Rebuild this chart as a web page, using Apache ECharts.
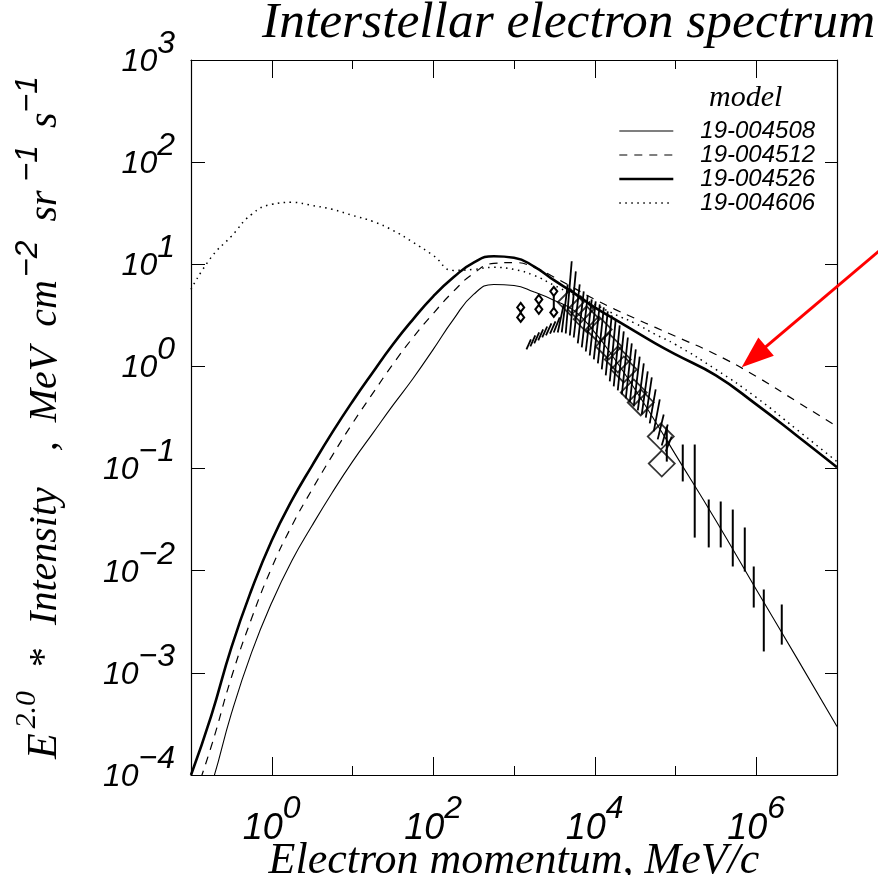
<!DOCTYPE html>
<html><head><meta charset="utf-8">
<script src="https://cdn.jsdelivr.net/npm/echarts/dist/echarts.min.js"></script>
<style>html,body{margin:0;padding:0;background:#fff}#c{width:878px;height:875px}</style>
</head><body><div id="c"></div>
<script>
// ---- data (momentum in MeV/c, E^2 * intensity) ----
const momentum = [0.1, 0.178, 0.316, 0.562, 1, 1.78, 3.16, 5.62, 10, 17.8, 31.6, 56.2, 100, 178, 316, 562, 1000, 1780, 3160, 5620, 1e4, 1.78e4, 3.16e4, 5.62e4, 1e5, 3.16e5, 1e6, 3.16e6, 1e7];
const model004508 = [2.3e-5, 7.9e-5, 3.99e-4, 1.58e-3, 4.88e-3, 1.26e-2, 2.77e-2, 5.83e-2, 0.117, 0.221, 0.415, 0.762, 1.47, 2.89, 5.07, 6.35, 6.2, 5.35, 4.43, 3.50, 2.15, 1.17, 0.595, 0.289, 0.137, 3.10e-2, 6.55e-3, 1.41e-3, 2.98e-4];
const model004512 = [4.9e-5, 1.9e-4, 9.0e-4, 3.4e-3, 1.07e-2, 2.77e-2, 6.24e-2, 0.134, 0.277, 0.544, 1.05, 1.92, 3.30, 5.43, 8.15, 10.2, 10.4, 9.33, 7.45, 5.81, 4.53, 3.62, 2.95, 2.41, 1.97, 1.31, 0.798, 0.454, 0.258];
const model004526 = [1.0e-4, 3.8e-4, 1.77e-3, 6.5e-3, 1.98e-2, 4.9e-2, 0.107, 0.226, 0.454, 0.873, 1.64, 2.89, 4.85, 7.45, 10.4, 12.0, 11.6, 9.5, 6.95, 5.19, 3.78, 2.89, 2.20, 1.68, 1.31, 0.816, 0.425, 0.211, 0.103];
const model004606 = [5.68, 11.7, 18.8, 30.8, 38.6, 40.4, 37.7, 34.5, 30.1, 26.3, 21.5, 16.4, 12.2, 8.71, 8.91, 9.33, 8.91, 7.78, 6.21, 4.96, 4.05, 3.23, 2.64, 2.06, 1.64, 0.935, 0.497, 0.242, 0.117];
const seriesNames = ['19-004508', '19-004512', '19-004526', '19-004606'];

// low-energy measurements (error bars with diamond caps)
const capX = [1210, 2030, 3110];
const capLow = [3.02, 3.62, 3.38];
const capHigh = [3.78, 4.53, 5.43];

// dense measurements (hatched strokes)
const hatchX = [1520, 1710, 1910, 2140, 2400, 2690, 3020, 3380, 3790, 4250, 4760, 5350, 5980, 6710, 7520, 8430, 9440, 1.06e4, 1.19e4, 1.33e4, 1.49e4, 1.67e4, 1.87e4, 2.10e4, 2.36e4, 2.64e4, 2.96e4, 3.31e4, 3.72e4, 4.16e4, 4.67e4, 5.22e4, 5.86e4, 6.56e4, 7.36e4, 8.24e4];
const hatchLow = [1.47, 1.57, 1.68, 1.80, 1.92, 2.01, 2.10, 2.15, 2.15, 2.15, 2.10, 2.01, 1.92, 1.68, 1.54, 1.40, 1.28, 1.17, 1.07, 0.935, 0.817, 0.713, 0.637, 0.582, 0.532, 0.486, 0.444, 0.406, 0.371, 0.339, 0.316, 0.277, 0.231, 0.193, 0.168, 0.147];
const hatchHigh = [1.84, 2.01, 2.15, 2.30, 2.46, 2.64, 2.76, 3.02, 4.05, 6.35, 10.7, 8.52, 6.35, 5.43, 4.96, 4.53, 4.33, 4.05, 3.78, 3.46, 3.16, 2.89, 2.52, 2.20, 1.92, 1.68, 1.47, 1.25, 1.07, 0.893, 0.780, 0.595, 0.475, 0.339, 0.270, 0.206];

// large open diamonds
const diamondX = [5040, 6710, 7960, 11200, 14900, 19300, 22900, 30400, 37100, 65700, 67600];
const diamondY = [4.24, 3.62, 2.89, 2.30, 1.57, 1.17, 0.935, 0.556, 0.444, 0.206, 0.112];

// high-energy error bars
const barX = [7.8e4, 1.23e5, 1.73e5, 2.58e5, 3.63e5, 5.12e5, 7.21e5, 9.31e5, 1.24e6, 2.07e6];
const barLow = [0.117, 0.0748, 0.0211, 0.0169, 0.0169, 0.011, 9.8e-3, 4.36e-3, 1.62e-3, 1.89e-3];
const barHigh = [0.258, 0.172, 0.172, 0.0498, 0.0476, 0.0397, 0.0265, 0.011, 6.55e-3, 4.67e-3];

// red annotation arrow (from, to)
const arrowFrom = [4.0e7, 15.3];
const arrowTo = [6.6e5, 0.98];

const decadeTicksX = [0.1, 1, 10, 100, 1e3, 1e4, 1e5, 1e6, 1e7];
const labelTicksX = [1, 100, 1e4, 1e6];
const decadeTicksY = [1e-4, 1e-3, 1e-2, 1e-1, 1, 10, 100, 1e3];

// ---- chart ----
const chart = echarts.init(document.getElementById('c'), null, {renderer: 'canvas'});
const zip = (a, b) => a.map((v, i) => [v, b[i]]);
function expLabel(v) {
  const e = Math.round(Math.log10(v));
  return '{b|10}{s|' + (e < 0 ? '\u2212' + (-e) : e) + '}';
}
const sansI = {fontFamily: 'Liberation Sans', fontStyle: 'italic', color: '#000'};
const serifI = {fontFamily: 'Liberation Serif', fontStyle: 'italic', color: '#000'};

function baseX(pos) {
  return {
    type: 'log', logBase: 10, min: 0.1, max: 1e7, position: pos, gridIndex: 0,
    axisLine: {show: false},
    splitLine: {show: false},
    axisTick: {show: true, inside: true, length: 9, customValues: decadeTicksX, lineStyle: {color: '#000', width: 1}},
    axisLabel: {show: false}
  };
}
function longX(pos) {
  return {
    type: 'log', logBase: 10, min: 0.1, max: 1e7, position: pos, gridIndex: 0,
    axisLine: {show: true, onZero: false, lineStyle: {color: '#000', width: 1.2}},
    splitLine: {show: false},
    axisTick: {show: true, inside: true, length: 18, customValues: labelTicksX, lineStyle: {color: '#000', width: 1}},
    axisLabel: {show: false}
  };
}

const xMain = longX('bottom');
xMain.axisLabel = {
  show: true, customValues: labelTicksX, margin: 18, formatter: expLabel,
  rich: {
    b: Object.assign({fontSize: 36, lineHeight: 72}, sansI),
    s: Object.assign({fontSize: 32, lineHeight: 32, verticalAlign: 'top'}, sansI)
  }
};
xMain.name = 'Electron momentum, MeV/c';
xMain.nameLocation = 'middle';
xMain.nameGap = 62;
xMain.nameMoveOverlap = false;
xMain.nameTextStyle = Object.assign({fontSize: 44, padding: [2, 0, 0, 0]}, serifI);

// y-axis title: rich tokens, spaced with padding (left padding in px)
const F = 40;
function tok(size, pad, sup, fam) {
  return Object.assign({fontSize: size, lineHeight: sup ? 32 : 66, verticalAlign: sup ? 'top' : 'middle',
                        padding: [0, 0, 0, pad]}, fam);
}
const yNameRich = {
  e: tok(42, 0, false, serifI),
  es: tok(30, 5, true, serifI),
  st: tok(F, 12, false, serifI),
  t1: tok(F, 14, false, serifI),
  cm: tok(F, 26, false, serifI),
  t2: tok(F, 9, false, serifI),
  t3: tok(F, 10, false, serifI),
  x1: tok(32, 3, true, sansI),
  t4: tok(F, 19, false, serifI),
  x2: tok(32, 9, true, sansI),
  t5: tok(F, 17, false, serifI),
  x3: tok(32, 0, true, sansI)
};
const yName = '{e|E}{es|2.0}{st| * }{t1|Intensity}{cm| , }{t2|MeV}{t3| cm}{x1|\u22122}{t4|sr}{x2|\u22121}{t5|s}{x3|\u22121}';

const lineBase = {type: 'line', symbol: 'none', smooth: 0.5, itemStyle: {color: '#000'}};
const lineStyles = [
  {color: '#000', width: 1.1, type: 'solid'},
  {color: '#000', width: 1.2, type: [8, 7]},
  {color: '#000', width: 2.6, type: 'solid'},
  {color: '#000', width: 1.5, type: [1.5, 4.5]}
];
const option = {
  animation: false,
  backgroundColor: '#fff',
  title: [
    {text: 'Interstellar electron spectrum', left: 257, top: -8,
     textStyle: Object.assign({fontSize: 51.5, fontWeight: 'normal'}, serifI)},
    {text: 'model', left: 704, top: 78,
     textStyle: Object.assign({fontSize: 30, fontWeight: 'normal'}, serifI)}
  ],
  legend: {
    data: seriesNames.map((n, i) => ({name: n, lineStyle: lineStyles[i]})),
    orient: 'vertical', left: 618, top: 119, padding: 0,
    itemWidth: 54, itemHeight: 14, itemGap: 0,
    selectedMode: false,
    itemStyle: {opacity: 0},
    textStyle: Object.assign({fontSize: 24, lineHeight: 24, padding: [0, 0, 0, 22]}, sansI)
  },
  grid: {left: 191, right: 41, top: 60, bottom: 100, containLabel: false, outerBoundsMode: 'none'},
  xAxis: [xMain, baseX('bottom'), longX('top'), baseX('top')],
  yAxis: [
    {
      type: 'log', logBase: 10, min: 1e-4, max: 1e3, position: 'left',
      axisLine: {show: true, onZero: false, lineStyle: {color: '#000', width: 1.2}},
      splitLine: {show: false},
      axisTick: {show: true, inside: true, length: 14, customValues: decadeTicksY, lineStyle: {color: '#000'}},
      axisLabel: {
        show: true, customValues: decadeTicksY, margin: 16, formatter: expLabel,
        rich: {
          b: Object.assign({fontSize: 32, lineHeight: 64, padding: [4, 0, 0, 0]}, sansI),
          s: Object.assign({fontSize: 32, lineHeight: 32, verticalAlign: 'top'}, sansI)
        }
      },
      name: yName, nameLocation: 'middle', nameRotate: 90, nameGap: 113, nameMoveOverlap: false,
      nameTextStyle: {rich: yNameRich}
    },
    {
      type: 'log', logBase: 10, min: 1e-4, max: 1e3, position: 'right',
      axisLine: {show: true, onZero: false, lineStyle: {color: '#000', width: 1.2}},
      splitLine: {show: false},
      axisTick: {show: true, inside: true, length: 12, customValues: decadeTicksY, lineStyle: {color: '#000'}},
      axisLabel: {show: false}
    }
  ],
  series: [
    Object.assign({name: seriesNames[0], data: zip(momentum, model004508), lineStyle: lineStyles[0]}, lineBase),
    Object.assign({name: seriesNames[1], data: zip(momentum, model004512), lineStyle: lineStyles[1]}, lineBase),
    Object.assign({name: seriesNames[2], data: zip(momentum, model004526), lineStyle: lineStyles[2]}, lineBase),
    Object.assign({name: seriesNames[3], data: zip(momentum, model004606), lineStyle: lineStyles[3]}, lineBase),
    {
      name: 'hatch', type: 'custom', data: hatchX.map((x, i) => [x, hatchLow[i], hatchHigh[i]]),
      encode: {x: 0, y: [1, 2]},
      renderItem: function (params, api) {
        const lo = api.coord([api.value(0), api.value(1)]);
        const hi = api.coord([api.value(0), api.value(2)]);
        const s = Math.min((lo[1] - hi[1]) * 0.45, 6);
        return {type: 'line', shape: {x1: lo[0] - s / 2, y1: lo[1], x2: lo[0] + s / 2, y2: hi[1]},
                style: {stroke: '#000', lineWidth: 1.8}};
      }
    },
    {
      name: 'caps', type: 'custom', data: capX.map((x, i) => [x, capLow[i], capHigh[i]]),
      encode: {x: 0, y: [1, 2]},
      renderItem: function (params, api) {
        const lo = api.coord([api.value(0), api.value(1)]);
        const hi = api.coord([api.value(0), api.value(2)]);
        const dia = (p) => ({type: 'polygon', shape: {points: [[p[0], p[1] - 4.5], [p[0] + 3.5, p[1]], [p[0], p[1] + 4.5], [p[0] - 3.5, p[1]]]},
                             style: {fill: '#fff', stroke: '#000', lineWidth: 2}});
        return {type: 'group', children: [
          {type: 'line', shape: {x1: lo[0], y1: lo[1], x2: hi[0], y2: hi[1]}, style: {stroke: '#000', lineWidth: 2}},
          dia(lo), dia(hi)
        ]};
      }
    },
    {
      name: 'diamonds', type: 'scatter', data: zip(diamondX, diamondY), symbol: 'diamond', symbolSize: [26, 26],
      itemStyle: {color: 'rgba(0,0,0,0)', borderColor: '#000', borderWidth: 1.8}
    },
    {
      name: 'bars', type: 'custom', data: barX.map((x, i) => [x, barLow[i], barHigh[i]]),
      encode: {x: 0, y: [1, 2]},
      renderItem: function (params, api) {
        const lo = api.coord([api.value(0), api.value(1)]);
        const hi = api.coord([api.value(0), api.value(2)]);
        return {type: 'line', shape: {x1: lo[0], y1: lo[1], x2: hi[0], y2: hi[1]}, style: {stroke: '#000', lineWidth: 2}};
      }
    },
    {
      name: 'arrow', type: 'custom', clip: false, data: [[arrowFrom[0], arrowFrom[1], arrowTo[0], arrowTo[1]]],
      encode: {x: [0, 2], y: [1, 3]},
      renderItem: function (params, api) {
        const a = api.coord([api.value(0), api.value(1)]);
        const b = api.coord([api.value(2), api.value(3)]);
        const dx = b[0] - a[0], dy = b[1] - a[1];
        const L = Math.sqrt(dx * dx + dy * dy), ux = dx / L, uy = dy / L;
        const hl = 32, hw = 12;
        const base = [b[0] - ux * hl, b[1] - uy * hl];
        return {type: 'group', children: [
          {type: 'line', shape: {x1: a[0], y1: a[1], x2: base[0] + ux * 4, y2: base[1] + uy * 4}, style: {stroke: '#ff0000', lineWidth: 3}},
          {type: 'polygon', shape: {points: [b, [base[0] - uy * hw, base[1] + ux * hw], [base[0] + uy * hw, base[1] - ux * hw]]},
           style: {fill: '#ff0000'}}
        ]};
      }
    }
  ]
};
chart.setOption(option);
</script></body></html>
